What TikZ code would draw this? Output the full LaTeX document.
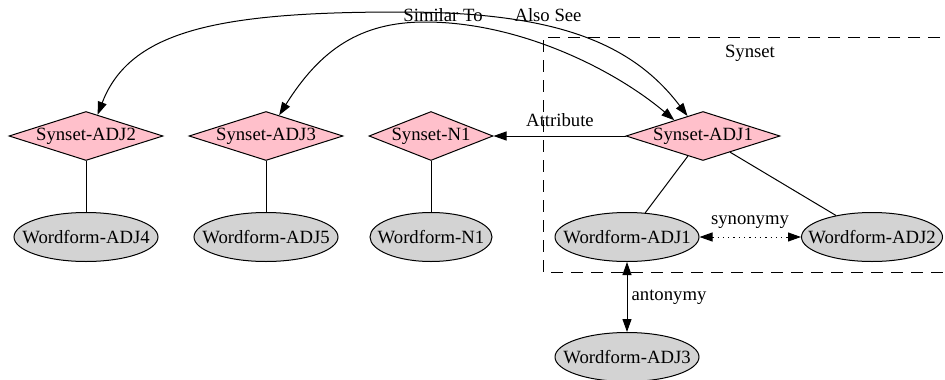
\documentclass[tikz,border=0pt]{standalone}
\usepackage{fontspec}
\setmainfont{Liberation Serif}
\usetikzlibrary{shapes.geometric,arrows.meta,calc}

\definecolor{synfill}{RGB}{255,192,203}
\definecolor{wordfill}{RGB}{211,211,211}

% zero-width label so the shape size is set by the minimum sizes alone
\newcommand{\ctext}[1]{\makebox[0pt][c]{#1}}

\tikzset{
  lbl/.style={font=\fontsize{18.7}{22}\selectfont, inner sep=0pt},
  synset/.style={diamond, draw=black, fill=synfill, line width=1pt, inner sep=0pt,
                 minimum width=154pt, minimum height=49pt, lbl},
  wordform/.style={ellipse, draw=black, fill=wordfill, line width=1pt, inner sep=0pt,
                   minimum width=144pt, minimum height=49pt, lbl},
  link/.style={line width=1pt, draw=black, >={Triangle[length=13pt, width=9pt]}},
  cluster/.style={dash pattern=on 12pt off 8pt, line width=1pt, draw=black}
}

\begin{document}
\begin{tikzpicture}[x=1pt, y=-1pt]
  \useasboundingbox (0,0) rectangle (945,380);

  % cluster frame around the adjective synset
  \draw[cluster] (960,37) -- (543,37) -- (543,272) -- (960,272);
  \node[lbl] (clusterlabel) at (750,53) {Synset};

  % synsets
  \node[synset] (adj2) at (86,136) {\ctext{Synset-ADJ2}};
  \node[synset] (adj3) at (266,136) {\ctext{Synset-ADJ3}};
  \node[synset, minimum width=124pt] (n1) at (431,136) {\ctext{Synset-N1}};
  \node[synset] (adj1) at (703,136) {\ctext{Synset-ADJ1}};

  % word forms
  \node[wordform] (w4) at (86,237) {\ctext{Wordform-ADJ4}};
  \node[wordform] (w5) at (266,237) {\ctext{Wordform-ADJ5}};
  \node[wordform, minimum width=122pt] (wn1) at (431,237) {\ctext{Wordform-N1}};
  \node[wordform] (w1) at (627,237) {\ctext{Wordform-ADJ1}};
  \node[wordform, minimum width=141pt] (w2) at (872,237) {\ctext{Wordform-ADJ2}};
  \node[wordform] (w3) at (627,357) {\ctext{Wordform-ADJ3}};

  % synset members
  \draw[link] (adj2) -- (w4);
  \draw[link] (adj3) -- (w5);
  \draw[link] (n1) -- (wn1);
  \draw[link] (adj1) -- (w1);
  \draw[link] (adj1) -- (w2);

  % semantic relations
  \draw[link, ->] (adj1.west) -- (n1.east);
  \node[lbl] (attrlabel) at (560,120) {Attribute};

  \draw[link, <->] ($(adj2.north)!0.15!(adj2.east)$)
      .. controls (130,30) and (220,12) .. (400,12)
      .. controls (550,12) and (630,40) .. ($(adj1.north)!0.2!(adj1.west)$);
  \node[lbl] (simlabel) at (443,15) {Similar To};

  \draw[link, <->] ($(adj3.north)!0.17!(adj3.east)$)
      .. controls (320,50) and (360,22) .. (425,22)
      .. controls (520,22) and (615,70) .. ($(adj1.north)!0.37!(adj1.west)$);
  \node[lbl] (seelabel) at (548,15) {Also See};

  % lexical relations
  \draw[link, dash pattern=on 1.3pt off 4pt, <->] (w1.east) -- (w2.west);
  \node[lbl] (synlabel) at (750,222) {synonymy};

  \draw[link, <->] (w1.south) -- (w3.north);
  \node[lbl] (antlabel) at (669,297) {antonymy};
\end{tikzpicture}
\end{document}
